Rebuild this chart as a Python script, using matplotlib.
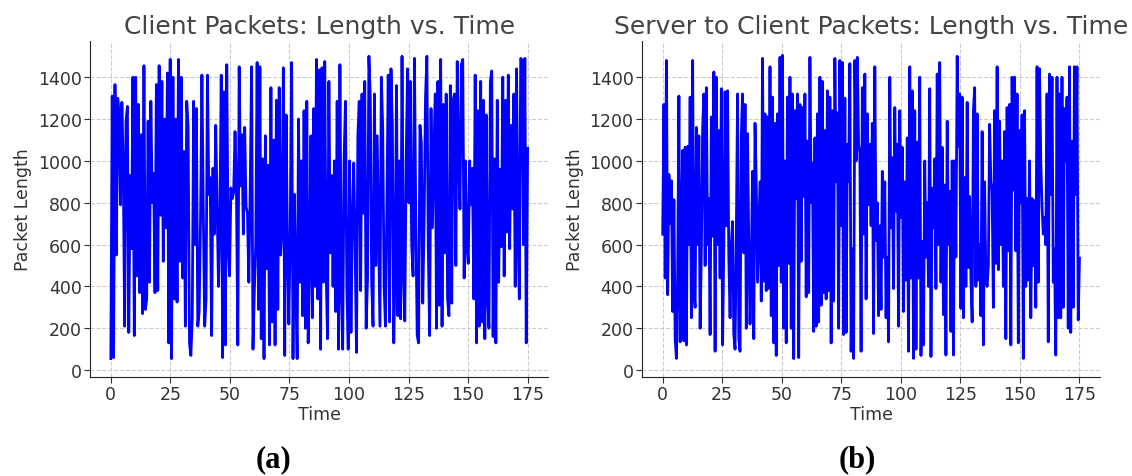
import numpy as np
import matplotlib
matplotlib.use('Agg')
import matplotlib.pyplot as plt

# packet lengths, left to right
client_len = [
    55, 1310, 60, 1365, 550, 1300, 1220, 790, 1280, 980, 210, 1190, 1260, 180, 930, 580, 1400, 165, 1400, 450,
    1270, 370, 1125, 270, 1455, 290, 340, 1190, 420, 1285, 800, 940, 370, 1365, 380, 1455, 740, 1380, 520, 1200,
    680, 1420, 130, 1485, 55, 1400, 340, 1200, 325, 1485, 520, 1400, 440, 1045, 210, 1285, 1160, 130, 70, 250,
    1285, 600, 1250, 210, 280, 720, 1410, 770, 210, 340, 1410, 840, 920, 165, 965, 650, 1170, 800, 400, 700,
    1410, 60, 1330, 120, 1460, 600, 450, 870, 820, 850, 1140, 880, 120, 1450, 880, 1125, 650, 1160, 780, 750, 420,
    870, 1450, 100, 380, 600, 1470, 290, 1450, 150, 1010, 55, 1120, 485, 980, 120, 1350, 230, 1100, 120, 1290,
    290, 1350, 550, 680, 1445, 70, 1220, 580, 220, 680, 1470, 55, 840, 420, 55, 1200, 420, 1000, 260, 1240,
    200, 1285, 130, 530, 1120, 250, 1250, 400, 1485, 340, 1435, 100, 1445, 420, 1475, 480, 150, 1380, 560, 930,
    400, 1000, 280, 1285, 100, 1460, 400, 100, 1000, 1285, 400, 100, 1000, 180, 700, 990, 600, 85, 1120, 1285,
    380, 1320, 750, 1380, 200, 440, 1500, 1300, 420, 210, 1320, 500, 1120, 650, 210, 1400, 1160, 400,
    210, 770, 1410, 230, 1440, 1170, 130, 485, 1360, 260, 1000, 245, 1500, 470, 235, 1000, 1440, 800, 1380, 600,
    450, 1490, 700, 165, 130, 1170, 1090, 320, 700, 1300, 1500, 600, 165, 1250, 680, 1000, 1320, 200, 1380, 310,
    1485, 210, 1270, 560, 1320, 340, 260, 1360, 320, 1290, 1320, 500, 1475, 1000, 770, 1460, 1485, 440, 1000, 590,
    510, 1000, 790, 965, 340, 1410, 130, 1240, 210, 1380, 230, 1290, 150, 1220, 340, 200, 1380, 1430, 160, 1010,
    130, 1290, 420, 960, 590, 1400, 450, 1290, 660, 1410, 580, 1170, 770, 1320, 400, 1440, 660, 340, 1490, 1480,
    600, 1490, 130, 1060,
]

server_len = [
    650, 1270, 440, 1480, 360, 935, 700, 905, 280, 815, 150, 56, 455, 1310, 135, 665, 1050, 140, 1065, 120,
    1070, 600, 1305, 250, 1480, 380, 300, 1160, 600, 1120, 200, 570, 1150, 1320, 500, 1350, 600, 820, 170, 1210,
    640, 1425, 90, 1400, 600, 1145, 440, 1345, 120, 600, 1330, 690, 1335, 530, 250, 600, 710, 170, 100, 640,
    1320, 150, 90, 1120, 1320, 560, 1270, 200, 1130, 600, 220, 500, 950, 150, 1180, 900, 420, 650, 900, 330,
    1490, 425, 1225, 380, 1210, 390, 1450, 260, 1305, 130, 1180, 70, 1225, 500, 1495, 420, 1505, 200, 1000, 130,
    1305, 510, 1400, 200, 1320, 55, 1240, 820,
    1320, 60, 1270, 520, 1255, 830, 1320, 350, 1095, 370, 1495, 800, 990, 185, 1110, 210, 1225, 230, 1400, 310,
    1380, 370, 1145, 340, 1335, 380, 1305, 130, 1240, 330, 1490, 900, 1230, 200, 1480, 690, 1470, 170, 1300, 180,
    1080, 900, 1465, 90, 580, 56, 1480, 1000, 1495, 1080, 1040, 90, 1350, 650, 1415, 340, 1225, 790, 1080, 690,
    1180, 175, 1450, 620, 800, 260, 690, 290, 950, 540, 900, 250, 540, 135, 1400, 680, 1015, 390, 1255, 760,
    1080, 210, 1240, 730, 1065, 280, 900, 430, 1110, 90, 1450, 440, 1335, 56, 1240, 100, 1090, 440, 1400, 70,
    615, 120, 1000, 540, 800, 400, 1345, 65, 870, 680,
    1010, 390, 1415, 600, 1470, 420, 1065, 265, 885, 72, 1190, 600, 855, 185, 1000, 72, 1000, 540, 1500, 1070,
    1320, 295, 1305, 250, 920, 400, 1280, 490, 830, 440, 230, 1240, 1350, 400, 1225, 430, 600, 260, 1140, 120,
    900, 440, 400, 500, 1175, 900, 860, 300, 1240, 510, 1450, 480, 1190, 600, 1000, 400, 1140, 150, 1255, 570,
    1270, 120, 1400, 860, 1400, 570, 1320, 130, 1145, 800, 1220, 56, 1240, 400, 820, 430, 1000, 250, 820, 500,
    810, 300, 1450, 420, 1440, 1000, 780, 650, 730, 600, 1320, 135, 1415, 840, 1400, 420, 580, 72, 1400, 250,
    1320, 250, 1400, 300, 1250, 1000, 1305, 200, 1450, 180, 1095, 300, 1450, 840, 1450, 240, 535,
]

t_end = 175
client_time = np.linspace(0, t_end, len(client_len))
server_time = np.linspace(0, t_end, len(server_len))

titles = ['Client Packets: Length vs. Time', 'Server to Client Packets: Length vs. Time']
captions = ['(a)', '(b)']
caption_x = [0.242, 0.757]

plt.rcParams['font.family'] = ['DejaVu Sans']
txt = '#333333'

fig = plt.figure(figsize=(11.32, 4.77), dpi=100)
ax1 = fig.add_axes([0.0795, 0.2075, 0.405, 0.704])
ax2 = fig.add_axes([0.567, 0.2075, 0.405, 0.704])

for ax, t, y, title, cap, cx in zip([ax1, ax2], [client_time, server_time], [client_len, server_len],
                                    titles, captions, caption_x):
    ax.plot(t, y, color='#0000ff', linewidth=2)
    ax.set_title(title, fontsize=18, color='#444444', pad=6)
    ax.set_xlabel('Time', fontsize=12.5, color=txt, labelpad=1)
    ax.set_ylabel('Packet Length', fontsize=12.5, color=txt, labelpad=4)
    ax.set_xticks(np.arange(0, 176, 25))
    ax.set_yticks(np.arange(0, 1401, 200))
    ax.tick_params(labelsize=12.5, colors=txt, length=4, pad=2)
    ax.grid(True, linestyle='--', color='#cccccc', linewidth=0.8)
    ax.spines['top'].set_visible(False)
    ax.spines['right'].set_visible(False)
    ax.spines['left'].set_color('#222222')
    ax.spines['bottom'].set_color('#222222')
    ax.set_ylim(-33, 1572)
    # panel caption under each plot
    fig.text(cx, 0.005, cap, ha='center', va='bottom',
             fontsize=22, fontweight='bold', family='Liberation Serif')

fig.savefig('out.png', dpi=100)
